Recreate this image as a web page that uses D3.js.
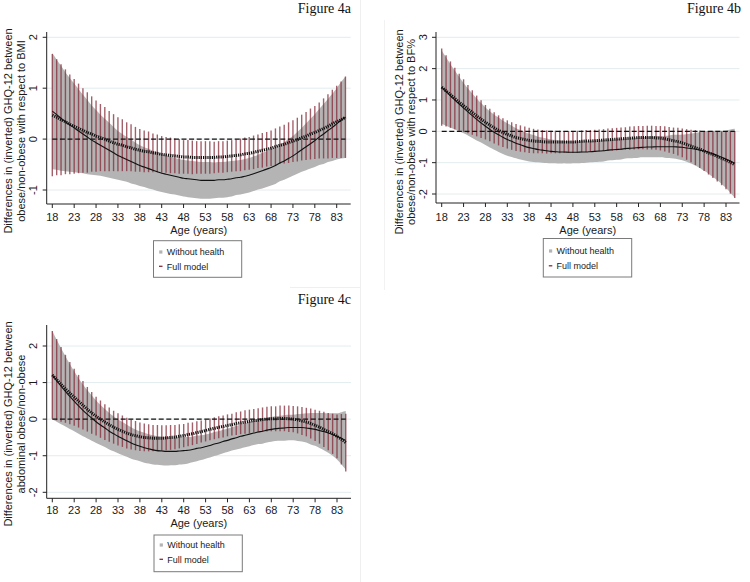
<!DOCTYPE html>
<html><head><meta charset="utf-8">
<script src="https://cdn.jsdelivr.net/npm/d3@7"></script>
<style>body{margin:0;background:#fff} svg{display:block}</style>
</head><body>
<svg id="c" width="750" height="582"></svg>
<script>
// ---------------- DATA ----------------
const ages = [18,19,20,21,22,23,24,25,26,27,28,29,30,31,32,33,34,35,36,37,38,39,40,41,42,43,44,45,46,47,48,49,50,51,52,53,54,55,56,57,58,59,60,61,62,63,64,65,66,67,68,69,70,71,72,73,74,75,76,77,78,79,80,81,82,83,84,85];
const xTickLabels = [18,23,28,33,38,43,48,53,58,63,68,73,78,83];
const yTicksA = [-1,0,1,2];
const yTicksB = [-2,-1,0,1,2,3];
const yTicksC = [-2,-1,0,1,2];

// Figure 4a (BMI)
const A_whEst = [0.55,0.48,0.41,0.34,0.28,0.22,0.16,0.10,0.04,-0.02, -0.07,-0.12,-0.17,-0.22,-0.27,-0.32,-0.36,-0.40,-0.44,-0.48, -0.52,-0.55,-0.58,-0.61,-0.64,-0.67,-0.69,-0.71,-0.73,-0.75, -0.77,-0.78,-0.79,-0.80,-0.81,-0.81,-0.81,-0.81,-0.80,-0.80, -0.79,-0.78,-0.76,-0.75,-0.73,-0.71,-0.68,-0.65,-0.62,-0.59, -0.56,-0.52,-0.47,-0.43,-0.38,-0.33,-0.27,-0.21,-0.15,-0.09, -0.03,0.04,0.10,0.17,0.23,0.30,0.37,0.43];
const A_whHalf = [1.14,1.08,1.03,0.97,0.92,0.87,0.82,0.77,0.73,0.68, 0.64,0.60,0.57,0.54,0.51,0.48,0.46,0.44,0.43,0.41, 0.40,0.39,0.39,0.38,0.38,0.37,0.37,0.37,0.36,0.36, 0.36,0.36,0.36,0.36,0.36,0.36,0.36,0.35,0.35,0.35, 0.35,0.35,0.34,0.34,0.34,0.34,0.34,0.34,0.35,0.35, 0.35,0.36,0.36,0.37,0.38,0.39,0.41,0.43,0.46,0.49, 0.52,0.55,0.59,0.62,0.66,0.70,0.75,0.80];
const A_fmEst = [0.47,0.43,0.38,0.34,0.29,0.25,0.21,0.17,0.13,0.10, 0.06,0.03,0.00,-0.04,-0.07,-0.10,-0.12,-0.15,-0.17,-0.20, -0.22,-0.24,-0.25,-0.27,-0.28,-0.30,-0.31,-0.32,-0.33,-0.34, -0.35,-0.35,-0.36,-0.36,-0.36,-0.36,-0.36,-0.36,-0.35,-0.35, -0.34,-0.33,-0.32,-0.31,-0.29,-0.28,-0.26,-0.24,-0.22,-0.20, -0.18,-0.15,-0.12,-0.10,-0.07,-0.04,-0.01,0.03,0.06,0.10, 0.13,0.17,0.21,0.25,0.30,0.34,0.38,0.43];
const A_fmHalf = [1.20,1.14,1.09,1.03,0.98,0.93,0.88,0.83,0.79,0.74, 0.70,0.66,0.63,0.59,0.56,0.53,0.51,0.48,0.46,0.44, 0.42,0.41,0.40,0.38,0.37,0.36,0.35,0.35,0.34,0.34, 0.33,0.33,0.33,0.32,0.32,0.32,0.32,0.31,0.31,0.31, 0.31,0.31,0.31,0.32,0.32,0.32,0.33,0.33,0.34,0.34, 0.35,0.36,0.37,0.38,0.40,0.41,0.43,0.45,0.47,0.50, 0.52,0.55,0.59,0.63,0.67,0.71,0.75,0.80];

// Figure 4b (BF%)
const B_whEst = [1.41,1.27,1.13,1.00,0.87,0.74,0.62,0.50,0.38,0.27, 0.16,0.06,-0.03,-0.11,-0.19,-0.26,-0.32,-0.38,-0.43,-0.48, -0.52,-0.55,-0.58,-0.60,-0.62,-0.64,-0.65,-0.66,-0.66,-0.67, -0.67,-0.67,-0.66,-0.66,-0.65,-0.64,-0.63,-0.62,-0.60,-0.59, -0.58,-0.57,-0.55,-0.54,-0.53,-0.52,-0.51,-0.50,-0.50,-0.49, -0.49,-0.49,-0.49,-0.49,-0.50,-0.51,-0.53,-0.55,-0.57,-0.60, -0.63,-0.67,-0.72,-0.77,-0.83,-0.89,-0.95,-1.02];
const B_whHalf = [1.17,1.09,1.01,0.94,0.87,0.80,0.75,0.71,0.67,0.63, 0.60,0.58,0.56,0.55,0.53,0.52,0.50,0.48,0.47,0.45, 0.44,0.43,0.41,0.40,0.39,0.38,0.37,0.37,0.36,0.36, 0.35,0.35,0.35,0.34,0.34,0.34,0.34,0.34,0.33,0.33, 0.33,0.33,0.32,0.32,0.32,0.32,0.32,0.33,0.33,0.34, 0.34,0.35,0.36,0.38,0.39,0.41,0.44,0.48,0.52,0.57, 0.63,0.68,0.74,0.79,0.85,0.92,1.01,1.10];
const B_fmEst = [1.41,1.29,1.17,1.05,0.93,0.82,0.71,0.60,0.49,0.39, 0.29,0.20,0.11,0.03,-0.04,-0.10,-0.15,-0.20,-0.23,-0.26, -0.29,-0.31,-0.32,-0.33,-0.34,-0.34,-0.34,-0.34,-0.34,-0.34, -0.34,-0.33,-0.32,-0.31,-0.31,-0.30,-0.29,-0.28,-0.27,-0.26, -0.25,-0.24,-0.23,-0.22,-0.21,-0.20,-0.20,-0.20,-0.20,-0.21, -0.22,-0.24,-0.27,-0.30,-0.33,-0.37,-0.42,-0.47,-0.52,-0.57, -0.63,-0.69,-0.74,-0.80,-0.86,-0.92,-0.99,-1.06];
const B_fmHalf = [1.23,1.14,1.06,0.98,0.91,0.84,0.77,0.71,0.65,0.60, 0.55,0.52,0.50,0.48,0.46,0.45,0.44,0.43,0.42,0.41, 0.40,0.39,0.38,0.37,0.37,0.36,0.36,0.36,0.35,0.35, 0.35,0.35,0.35,0.35,0.35,0.35,0.35,0.35,0.36,0.36, 0.36,0.36,0.36,0.37,0.37,0.37,0.37,0.38,0.38,0.38, 0.39,0.40,0.41,0.42,0.44,0.46,0.49,0.52,0.56,0.60, 0.64,0.69,0.75,0.80,0.86,0.93,1.00,1.07];

// Figure 4c (abdominal)
const C_whEst = [1.21,1.05,0.90,0.76,0.62,0.49,0.36,0.24,0.13,0.03, -0.07,-0.16,-0.24,-0.33,-0.40,-0.47,-0.53,-0.59,-0.65,-0.70, -0.74,-0.78,-0.81,-0.84,-0.86,-0.87,-0.88,-0.88,-0.88,-0.87, -0.86,-0.85,-0.83,-0.80,-0.78,-0.75,-0.72,-0.68,-0.65,-0.61, -0.58,-0.54,-0.51,-0.47,-0.44,-0.41,-0.38,-0.35,-0.33,-0.30, -0.28,-0.26,-0.25,-0.24,-0.23,-0.23,-0.23,-0.23,-0.24,-0.26, -0.28,-0.31,-0.34,-0.38,-0.42,-0.47,-0.52,-0.58];
const C_whHalf = [1.21,1.12,1.04,0.96,0.89,0.82,0.76,0.71,0.66,0.62, 0.58,0.55,0.52,0.50,0.48,0.46,0.45,0.44,0.43,0.42, 0.41,0.41,0.40,0.40,0.39,0.39,0.39,0.38,0.38,0.37, 0.37,0.36,0.35,0.35,0.34,0.33,0.33,0.33,0.32,0.32, 0.32,0.32,0.32,0.33,0.33,0.33,0.33,0.33,0.34,0.34, 0.34,0.34,0.34,0.35,0.35,0.35,0.37,0.38,0.40,0.43, 0.45,0.48,0.51,0.54,0.58,0.63,0.71,0.80];
const C_fmEst = [1.21,1.08,0.95,0.83,0.71,0.60,0.49,0.38,0.27,0.17, 0.08,0.00,-0.08,-0.15,-0.22,-0.28,-0.33,-0.38,-0.42,-0.45, -0.48,-0.50,-0.51,-0.52,-0.52,-0.52,-0.51,-0.50,-0.49,-0.47, -0.45,-0.42,-0.40,-0.37,-0.34,-0.31,-0.28,-0.25,-0.22,-0.20, -0.17,-0.15,-0.12,-0.10,-0.08,-0.06,-0.04,-0.03,-0.01,0.00, 0.01,0.01,0.02,0.02,0.01,0.00,-0.02,-0.05,-0.08,-0.12, -0.17,-0.22,-0.28,-0.34,-0.40,-0.47,-0.55,-0.64];
const C_fmHalf = [1.20,1.11,1.02,0.93,0.85,0.78,0.72,0.66,0.61,0.57, 0.53,0.51,0.49,0.47,0.45,0.44,0.43,0.42,0.41,0.40, 0.39,0.38,0.37,0.36,0.36,0.35,0.34,0.34,0.33,0.33, 0.32,0.32,0.31,0.31,0.30,0.30,0.30,0.30,0.30,0.30, 0.30,0.30,0.31,0.31,0.32,0.32,0.32,0.33,0.33,0.34, 0.34,0.34,0.35,0.35,0.36,0.36,0.37,0.38,0.39,0.41, 0.43,0.45,0.48,0.51,0.55,0.60,0.69,0.79];

const legendLabels = ["Without health", "Full model"];

// ---------------- LAYOUT ----------------
const panels = [
  { title:"Figure 4a", titleX:351, titleY:13,
    ytitle:["Differences in (inverted) GHQ-12 between","obese/non-obese with respect to BMI"],
    yTitleX:[12.3,25.3], yTitleCY:131,
    whEst:A_whEst, whHalf:A_whHalf, fmEst:A_fmEst, fmHalf:A_fmHalf, yTicks:yTicksA,
    xR:[52.3,336.7], axisL:46.7, axisR:350.7, top:32, bottom:204,
    yDom:[-1,2], yR:[190,37.3], yLabX:37.3, xLabY:220.7, xTitleY:234,
    leg:{x:153.5,y:240.7,w:88.2,h:36.6,t1:252,t2:266.3} },
  { title:"Figure 4b", titleX:741, titleY:13,
    ytitle:["Differences in (inverted) GHQ-12 between","obese/non-obese with respect to BF%"],
    yTitleX:[402.8,415.3], yTitleCY:132,
    whEst:B_whEst, whHalf:B_whHalf, fmEst:B_fmEst, fmHalf:B_fmHalf, yTicks:yTicksB,
    xR:[441.7,726], axisL:436, axisR:739.5, top:32, bottom:203,
    yDom:[-2,3], yR:[194,37.3], yLabX:427.3, xLabY:220.7, xTitleY:234,
    leg:{x:543.3,y:238.5,w:88.4,h:38.5,t1:251,t2:265.8} },
  { title:"Figure 4c", titleX:351, titleY:304,
    ytitle:["Differences in (inverted) GHQ-12 between","abdominal obese/non-obese"],
    yTitleX:[12.3,25.0], yTitleCY:424,
    whEst:C_whEst, whHalf:C_whHalf, fmEst:C_fmEst, fmHalf:C_fmHalf, yTicks:yTicksC,
    xR:[52.3,337], axisL:46.7, axisR:351, top:325, bottom:498.3,
    yDom:[-2,2], yR:[492.3,346], yLabX:37.3, xLabY:514, xTitleY:527.3,
    leg:{x:154,y:535,w:88.3,h:36.7,t1:545,t2:559.3} }
];

const FONT = "'Liberation Sans', Arial, Helvetica, sans-serif";
const SERIF = "'Liberation Serif', 'Times New Roman', serif";
const TXT = "#1a1a1a";
const BAND = "#b4b4b4";
const SPIKE = "#852b38";

const svg = d3.select("#c");

// faint borders of the separate graph images
svg.append("line").attr("x1",360.5).attr("x2",360.5).attr("y1",0).attr("y2",582).attr("stroke","#efefef");
svg.append("line").attr("x1",290).attr("x2",360.5).attr("y1",287.5).attr("y2",287.5).attr("stroke","#efefef");
svg.append("line").attr("x1",384.5).attr("x2",384.5).attr("y1",20).attr("y2",290).attr("stroke","#f2f2f2");

panels.forEach(p => {
  const g = svg.append("g");
  const x = d3.scaleLinear().domain([18,83]).range(p.xR);
  const y = d3.scaleLinear().domain(p.yDom).range(p.yR);
  const rows = ages.map((a,i) => ({a,
    wl:p.whEst[i]-p.whHalf[i], wu:p.whEst[i]+p.whHalf[i], we:p.whEst[i],
    fl:p.fmEst[i]-p.fmHalf[i], fu:p.fmEst[i]+p.fmHalf[i], fe:p.fmEst[i]}));

  // gridlines
  g.selectAll(".grid").data(p.yTicks).join("line")
    .attr("x1",p.axisL).attr("x2",p.axisR)
    .attr("y1",d=>y(d)).attr("y2",d=>y(d))
    .attr("stroke","#e3ecee").attr("stroke-width",1);

  // band: without health CI
  g.append("path").datum(rows)
    .attr("d", d3.area().curve(d3.curveMonotoneX).x(d=>x(d.a)).y0(d=>y(d.wl)).y1(d=>y(d.wu)))
    .attr("fill",BAND).attr("stroke","none");

  // spikes: full model CI
  g.selectAll(".sp").data(rows).join("line")
    .attr("x1",d=>x(d.a)).attr("x2",d=>x(d.a))
    .attr("y1",d=>y(d.fl)).attr("y2",d=>y(d.fu))
    .attr("stroke",SPIKE).attr("stroke-width",1.4).attr("stroke-opacity",0.75);

  // without health estimate
  g.append("path").datum(rows)
    .attr("d", d3.line().curve(d3.curveMonotoneX).x(d=>x(d.a)).y(d=>y(d.we)))
    .attr("fill","none").attr("stroke","#111").attr("stroke-width",1.1);

  // zero reference
  g.append("line").attr("x1",x(18)).attr("x2",x(85))
    .attr("y1",y(0)).attr("y2",y(0))
    .attr("stroke","#111").attr("stroke-width",1.3).attr("stroke-dasharray","5,2.6");

  // full model estimate
  g.append("path").datum(rows)
    .attr("d", d3.line().curve(d3.curveMonotoneX).x(d=>x(d.a)).y(d=>y(d.fe)))
    .attr("fill","none").attr("stroke","#111").attr("stroke-width",3).attr("stroke-dasharray","1.2,1");

  // axes
  g.append("line").attr("x1",p.axisL).attr("x2",p.axisL).attr("y1",p.top).attr("y2",p.bottom)
    .attr("stroke","#222").attr("stroke-width",1);
  g.append("line").attr("x1",p.axisL).attr("x2",p.axisR).attr("y1",p.bottom).attr("y2",p.bottom)
    .attr("stroke","#222").attr("stroke-width",1);

  // y ticks + labels
  g.selectAll(".yt").data(p.yTicks).join("line")
    .attr("x1",p.axisL-4).attr("x2",p.axisL).attr("y1",d=>y(d)).attr("y2",d=>y(d))
    .attr("stroke","#222");
  g.selectAll(".yl").data(p.yTicks).join("text")
    .attr("transform",d=>`translate(${p.yLabX},${y(d)}) rotate(-90)`)
    .attr("text-anchor","middle").attr("font-family",FONT).attr("font-size",11).attr("fill",TXT)
    .text(d=>d);

  // x ticks + labels
  g.selectAll(".xt").data(xTickLabels).join("line")
    .attr("x1",d=>x(d)).attr("x2",d=>x(d)).attr("y1",p.bottom).attr("y2",p.bottom+4)
    .attr("stroke","#222");
  g.selectAll(".xl").data(xTickLabels).join("text")
    .attr("x",d=>x(d)).attr("y",p.xLabY)
    .attr("text-anchor","middle").attr("font-family",FONT).attr("font-size",11).attr("fill",TXT)
    .text(d=>d);

  // axis titles
  const cx = (p.axisL+p.axisR)/2;
  g.append("text").attr("x",cx).attr("y",p.xTitleY).attr("text-anchor","middle")
    .attr("font-family",FONT).attr("font-size",11).attr("fill",TXT).text("Age (years)");
  p.ytitle.forEach((t,i) => {
    g.append("text").attr("transform",`translate(${p.yTitleX[i]},${p.yTitleCY}) rotate(-90)`)
      .attr("text-anchor","middle").attr("font-family",FONT).attr("font-size",11).attr("fill",TXT).text(t);
  });

  // figure title
  g.append("text").attr("x",p.titleX).attr("y",p.titleY).attr("text-anchor","end")
    .attr("font-family",SERIF).attr("font-size",14).attr("fill","#111").text(p.title);

  // legend
  const L = p.leg;
  g.append("rect").attr("x",L.x).attr("y",L.y).attr("width",L.w).attr("height",L.h)
    .attr("fill","#fff").attr("stroke","#7a7a7a").attr("stroke-width",1);
  g.append("rect").attr("x",L.x+5.7).attr("y",L.t1-1.6).attr("width",3.2).attr("height",3.2).attr("fill",BAND);
  g.append("line").attr("x1",L.x+5.5).attr("x2",L.x+9).attr("y1",L.t2).attr("y2",L.t2)
    .attr("stroke",SPIKE).attr("stroke-width",1.3);
  [L.t1, L.t2].forEach((ty,i) => {
    g.append("text").attr("x",L.x+13.3).attr("y",ty+3.3)
      .attr("font-family",FONT).attr("font-size",9).attr("fill",TXT).text(legendLabels[i]);
  });
});
</script>
</body></html>
